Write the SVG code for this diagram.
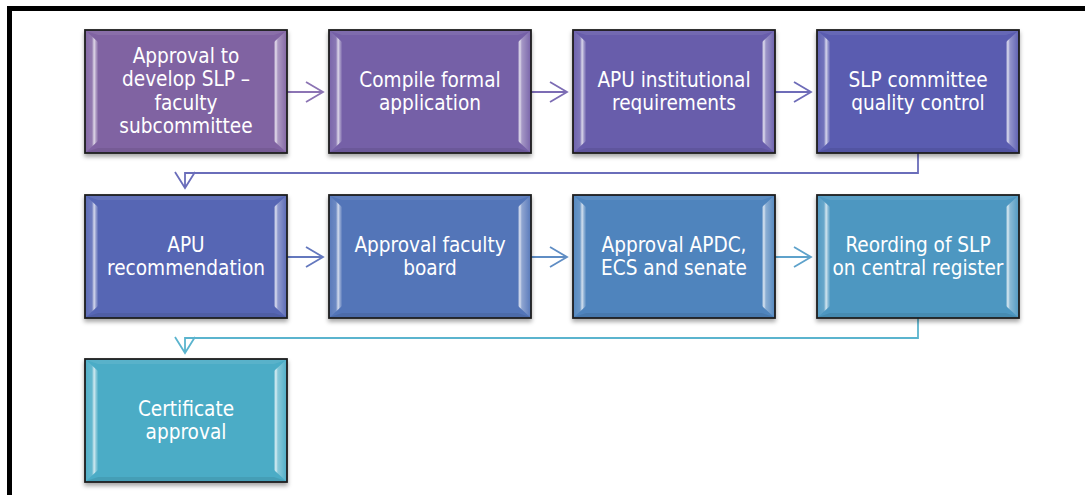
<svg xmlns="http://www.w3.org/2000/svg" width="1085" height="495" viewBox="0 0 1085 495">
<style>
.face{stroke:#1e1e1e;stroke-width:1.8}
.lbl{font-family:"DejaVu Sans Condensed","DejaVu Sans",sans-serif;font-size:20.6px;fill:#ffffff;text-anchor:middle}
.con{fill:none;stroke-width:1.8;stroke-linejoin:miter}
</style>
<defs>
<filter id="sh" x="-10%" y="-10%" width="120%" height="125%">
<feDropShadow dx="0" dy="3" stdDeviation="2.2" flood-color="#000" flood-opacity="0.35"/>
</filter>
<linearGradient id="gl" x1="0" y1="0" x2="1" y2="0">
<stop offset="0" stop-color="#fff" stop-opacity="0.05"/>
<stop offset="0.5" stop-color="#fff" stop-opacity="0.15"/>
<stop offset="0.68" stop-color="#fff" stop-opacity="0.75"/>
<stop offset="0.82" stop-color="#fff" stop-opacity="0.4"/>
<stop offset="1" stop-color="#fff" stop-opacity="0.05"/>
</linearGradient>
<linearGradient id="gr" x1="0" y1="0" x2="1" y2="0">
<stop offset="0" stop-color="#fff" stop-opacity="0.1"/>
<stop offset="0.15" stop-color="#fff" stop-opacity="0.8"/>
<stop offset="0.32" stop-color="#fff" stop-opacity="0.35"/>
<stop offset="1" stop-color="#fff" stop-opacity="0.06"/>
</linearGradient>
<g id="bev">
<polygon points="1,1 201,1 189,5 13,5" fill="#fff" fill-opacity="0.08"/>
<polygon points="1,122 201,122 189,118 13,118" fill="#000" fill-opacity="0.08"/>
<polygon points="1,1 13,12 13,111 1,122" fill="url(#gl)"/>
<polygon points="201,1 189,12 189,111 201,122" fill="url(#gr)"/>
</g>
</defs>
<rect width="1085" height="495" fill="#ffffff"/>
<path d="M9.5,495 V8.5 H1085" fill="none" stroke="#000" stroke-width="5"/>

<g id="connectors">
<path class="con" stroke="#8C74B4" d="M287,92 H323 M306,82 L323,92 L306,102"/>
<path class="con" stroke="#7C6CB4" d="M531,92 H567 M550,82 L567,92 L550,102"/>
<path class="con" stroke="#6E6CB8" d="M775,92 H811 M794,82 L811,92 L794,102"/>
<path class="con" stroke="#6A6DBA" d="M918,153 V173 H185 V188 M175,172 L185,188 L195,172"/>
<path class="con" stroke="#6478BE" d="M287,257 H323 M306,247 L323,257 L306,267"/>
<path class="con" stroke="#5F8DC4" d="M531,257 H567 M550,247 L567,257 L550,267"/>
<path class="con" stroke="#5EA2CB" d="M775,257 H811 M794,247 L811,257 L794,267"/>
<path class="con" stroke="#5BB4CE" d="M918,317 V338 H185 V353 M175,337 L185,353 L195,337"/>
</g>

<g id="n1" transform="translate(85,30)">
<rect class="face" width="202" height="123" fill="#8064A2" filter="url(#sh)"/>
<use href="#bev"/>
<text class="lbl"><tspan x="101" y="33">Approval to</tspan><tspan x="101" y="56">develop SLP –</tspan><tspan x="101" y="80">faculty</tspan><tspan x="101" y="103">subcommittee</tspan></text>
</g>
<g id="n2" transform="translate(329,30)">
<rect class="face" width="202" height="123" fill="#7560A7" filter="url(#sh)"/>
<use href="#bev"/>
<text class="lbl"><tspan x="101" y="57">Compile formal</tspan><tspan x="101" y="80">application</tspan></text>
</g>
<g id="n3" transform="translate(573,30)">
<rect class="face" width="202" height="123" fill="#685DAB" filter="url(#sh)"/>
<use href="#bev"/>
<text class="lbl"><tspan x="101" y="57">APU institutional</tspan><tspan x="101" y="80">requirements</tspan></text>
</g>
<g id="n4" transform="translate(817,30)">
<rect class="face" width="202" height="123" fill="#5A5BB0" filter="url(#sh)"/>
<use href="#bev"/>
<text class="lbl"><tspan x="101" y="57">SLP committee</tspan><tspan x="101" y="80">quality control</tspan></text>
</g>
<g id="n5" transform="translate(85,195)">
<rect class="face" width="202" height="123" fill="#5666B4" filter="url(#sh)"/>
<use href="#bev"/>
<text class="lbl"><tspan x="101" y="57">APU</tspan><tspan x="101" y="80">recommendation</tspan></text>
</g>
<g id="n6" transform="translate(329,195)">
<rect class="face" width="202" height="123" fill="#5374B8" filter="url(#sh)"/>
<use href="#bev"/>
<text class="lbl"><tspan x="101" y="57">Approval faculty</tspan><tspan x="101" y="80">board</tspan></text>
</g>
<g id="n7" transform="translate(573,195)">
<rect class="face" width="202" height="123" fill="#5084BD" filter="url(#sh)"/>
<use href="#bev"/>
<text class="lbl"><tspan x="101" y="57">Approval APDC,</tspan><tspan x="101" y="80">ECS and senate</tspan></text>
</g>
<g id="n8" transform="translate(817,195)">
<rect class="face" width="202" height="123" fill="#4D97C1" filter="url(#sh)"/>
<use href="#bev"/>
<text class="lbl"><tspan x="101" y="57">Reording of SLP</tspan><tspan x="101" y="80">on central register</tspan></text>
</g>
<g id="n9" transform="translate(85,359)">
<rect class="face" width="202" height="123" fill="#4BACC6" filter="url(#sh)"/>
<use href="#bev"/>
<text class="lbl"><tspan x="101" y="57">Certificate</tspan><tspan x="101" y="80">approval</tspan></text>
</g>
</svg>
